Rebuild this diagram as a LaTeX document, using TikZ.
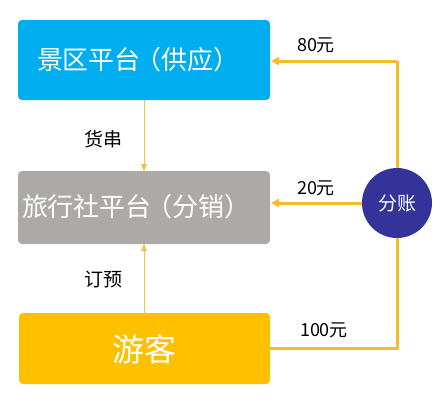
\documentclass[tikz,border=0pt]{standalone}
\usepackage{fontspec}
\setmainfont{Noto Sans CJK SC}
\usetikzlibrary{arrows.meta}
\definecolor{cblue}{HTML}{00AEEF}
\definecolor{cgray}{HTML}{ADA9A8}
\definecolor{cyel}{HTML}{FFC000}
\definecolor{cline}{HTML}{F5BD2A}
\definecolor{cthin}{HTML}{F2C34A}
\definecolor{cindigo}{HTML}{33339A}
\newcommand{\lp}{\hspace{-6pt}（}
\newcommand{\rp}{）\hspace{-6pt}}
\tikzset{
  boxtext/.style={text=white, inner sep=0pt, font=\fontsize{26}{30}\selectfont},
  thinarrow/.style={draw=cthin, line width=0.9pt, -{Triangle[length=7pt,width=6pt]}},
  thickarrow/.style={draw=cline, line width=3pt, -{Triangle[length=8pt,width=8pt]}},
  thickline/.style={draw=cline, line width=3pt},
  lbl/.style={font=\fontsize{19}{22}\selectfont, text=black, inner sep=0pt},
  money/.style={font=\fontsize{18}{21}\selectfont, text=black, inner sep=0pt}
}
\begin{document}
\begin{tikzpicture}[x=1pt,y=-1pt]
\useasboundingbox (0,0) rectangle (445,408);
\fill[cblue, rounded corners=4pt] (18,20) rectangle (270,100);
\node[boxtext] (sp) at (138,60) {景区平台\lp 供应\rp};
\coordinate (spb) at (144,100);
\coordinate (spr) at (271,61);
\fill[cgray, rounded corners=4pt] (18,171) rectangle (270,244);
\node[boxtext] (ta) at (136,207) {旅行社平台\lp 分销\rp};
\coordinate (tat) at (144,171);
\coordinate (tab) at (144,244);
\coordinate (tar) at (271,203);
\fill[cyel, rounded corners=4pt] (19,313) rectangle (270,384);
\node[text=white, inner sep=0pt, font=\fontsize{32}{36}\selectfont] (yk) at (144,349) {游客};
\coordinate (ykt) at (144,313);
\coordinate (ykr) at (269,348);
\node[circle, fill=cindigo, minimum size=70pt, inner sep=0pt, text=white, font=\fontsize{19}{22}\selectfont] (fz) at (397,203) {分账};
\coordinate (tr) at (397,61);
\coordinate (br) at (397,348);
\draw[thinarrow] (spb) -- (tat);
\draw[thinarrow] (ykt) -- (tab);
\node[lbl, anchor=east] (l1) at (123,139) {货串};
\node[lbl, anchor=east] (l2) at (123,279) {订预};
\draw[thickline] (ykr) -- (br) -- (fz.south);
\draw[thickline] (fz.north) -- (tr);
\draw[thickarrow] (tr) -- (spr);
\draw[thickarrow] (fz.west) -- (tar);
\node[money] (m1) at (316,45) {80元};
\node[money] (m2) at (316,188) {20元};
\node[money] (m3) at (324,330) {100元};
\end{tikzpicture}
\end{document}
